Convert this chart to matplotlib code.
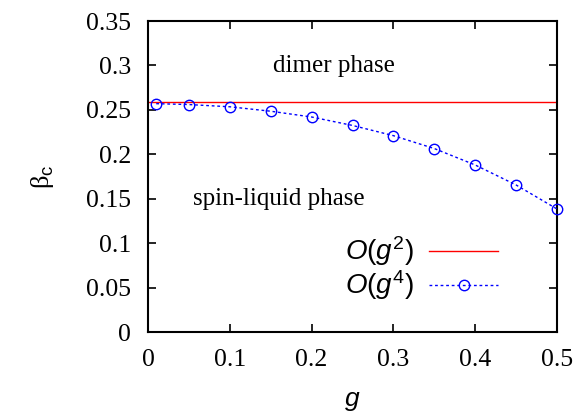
import matplotlib.pyplot as plt
import numpy as np

# Data
g_vals = [0.01, 0.05, 0.1, 0.15, 0.2, 0.25, 0.3, 0.35, 0.4, 0.45, 0.5]
beta_g4 = [0.257, 0.256, 0.2535, 0.2485, 0.242, 0.2325, 0.221, 0.2065, 0.188, 0.1655, 0.1385]
g_line = [0.0, 0.5]
beta_g2 = [0.2585, 0.2585]

xticks = [0, 0.1, 0.2, 0.3, 0.4, 0.5]
xtick_labels = ["0", "0.1", "0.2", "0.3", "0.4", "0.5"]
yticks = [0, 0.05, 0.1, 0.15, 0.2, 0.25, 0.3, 0.35]
ytick_labels = ["0", "0.05", "0.1", "0.15", "0.2", "0.25", "0.3", "0.35"]

plt.rcParams["font.family"] = ["Liberation Serif", "DejaVu Serif"]
plt.rcParams["mathtext.fontset"] = "custom"
plt.rcParams["mathtext.rm"] = "Liberation Sans"
plt.rcParams["mathtext.it"] = "Liberation Sans:italic"

fig = plt.figure(figsize=(5.76, 4.12), dpi=100)
ax = fig.add_axes([0.257, 0.194, 0.710, 0.755])

ax.plot(g_line, beta_g2, color="red", linewidth=1.0, label=r"$O(g^2)$")
ax.plot(g_vals, beta_g4, color="blue", linewidth=1.0, linestyle=(0, (2, 2)),
        marker="o", markersize=7.5, markerfacecolor="none", markeredgecolor="blue",
        markeredgewidth=1.0, label=r"$O(g^4)$", clip_on=False, zorder=3)

ax.set_xlim(0, 0.5)
ax.set_ylim(0, 0.35)
ax.set_xticks(xticks, xtick_labels)
ax.set_yticks(yticks, ytick_labels)
ax.tick_params(direction="in", top=True, right=True, length=6, width=1.2,
               labelsize=18.5)
ax.tick_params(axis="x", pad=12)
ax.tick_params(axis="y", pad=12)
for sp in ax.spines.values():
    sp.set_linewidth(1.5)

ax.set_xlabel(r"$g$", fontsize=19, labelpad=14)
ax.set_ylabel(r"β$_\mathrm{c}$", fontsize=19, labelpad=22, rotation=90)

ax.text(0.227, 0.2995, "dimer phase", fontsize=18, ha="center", va="center")
ax.text(0.160, 0.150, "spin-liquid phase", fontsize=18, ha="center", va="center")

ax.legend(loc="lower right", bbox_to_anchor=(0.884, 0.06), frameon=False,
          markerfirst=False, fontsize=20, handlelength=2.5, labelspacing=0.0,
          handletextpad=0.55, borderaxespad=0)

fig.savefig("out.png", dpi=100)
